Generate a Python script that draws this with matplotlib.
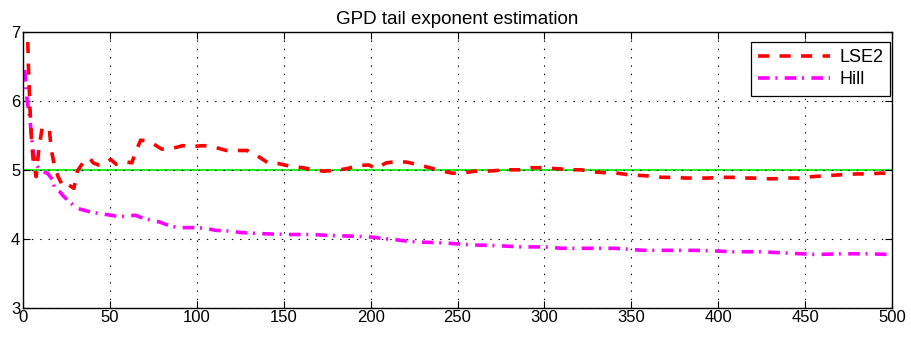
import matplotlib

matplotlib.use("Agg")
import matplotlib.pyplot as plt
import numpy as np

plt.rcParams["font.family"] = ["Liberation Sans", "DejaVu Sans"]
plt.rcParams["lines.scale_dashes"] = False

# LSE2 estimate (red dashed)
lse2_n = [
    2, 3, 4, 5, 6, 7.6, 9.1, 11.1, 13.1, 15.2, 16.2, 18.2, 20.2, 23.2, 26.3,
    29.3, 31.3, 34.4, 38.4, 40.4, 43.4, 46.5, 50.5, 53.6, 58.6, 62.6, 64.7,
    67.7, 70.7, 74.8, 79.8, 85.9, 91.9, 98, 104, 110, 117, 123, 129, 135, 141,
    147, 154, 161, 167, 173, 180, 187, 192, 199, 203, 209, 215, 221, 228, 234,
    240, 247, 255, 260, 267, 273, 280, 286, 293, 299, 305, 316, 321, 328, 333,
    342, 348, 354, 360, 368, 374, 381, 387, 394, 401, 408, 414, 420, 427, 433,
    441, 446, 454, 460, 466, 473, 480, 486, 493, 499, 500,
]
lse2_val = [
    7.8, 6.6, 5.9, 5.4, 5.1, 4.9, 5.3, 5.62, 5.6, 5.58, 5.3, 5.05, 4.9, 4.75,
    4.78, 4.73, 4.98, 5.1, 5.17, 5.1, 5.07, 5.08, 5.15, 5.08, 5.12, 5.1, 5.25,
    5.43, 5.42, 5.38, 5.30, 5.31, 5.35, 5.34, 5.35, 5.33, 5.28, 5.28, 5.28, 5.2,
    5.1, 5.09, 5.05, 5.03, 5.0, 4.98, 4.99, 5.02, 5.06, 5.07, 5.02, 5.1, 5.12,
    5.11, 5.07, 5.03, 4.99, 4.95, 4.96, 4.98, 4.98, 4.99, 5.0, 5.0, 5.03, 5.03,
    5.02, 5.0, 5.0, 4.97, 4.96, 4.95, 4.93, 4.92, 4.91, 4.89, 4.89, 4.88, 4.88,
    4.88, 4.89, 4.89, 4.88, 4.88, 4.87, 4.87, 4.88, 4.88, 4.9, 4.91, 4.92, 4.93,
    4.94, 4.94, 4.95, 4.95, 4.95,
]

# Hill estimate (magenta dash-dot)
hill_n = [
    1, 1.5, 2, 3, 4, 5, 6, 7.1, 10.1, 14.1, 17.2, 18.2, 21.2, 23.2, 27.3, 31.3,
    35.4, 40.4, 45.5, 50.5, 55.6, 60.6, 64.7, 68.7, 74.8, 78.8, 82.9, 88.9, 95,
    100, 105, 111, 119, 125, 131, 140, 152, 158, 167, 173, 184, 196, 202, 207,
    213, 222, 228, 240, 247, 257, 271, 287, 300, 310, 325, 341, 357, 372, 387,
    399, 409, 424, 440, 456, 471, 487, 499, 500,
]
hill_val = [
    6.45, 6.3, 6.1, 5.9, 5.74, 5.45, 5.25, 5.1, 4.98, 4.95, 4.85, 4.72, 4.68,
    4.62, 4.52, 4.44, 4.41, 4.38, 4.36, 4.34, 4.32, 4.33, 4.34, 4.3, 4.26, 4.24,
    4.2, 4.16, 4.16, 4.16, 4.15, 4.12, 4.11, 4.09, 4.08, 4.07, 4.06, 4.06, 4.06,
    4.05, 4.04, 4.03, 4.02, 4.0, 3.99, 3.96, 3.95, 3.94, 3.93, 3.91, 3.90, 3.88,
    3.88, 3.86, 3.86, 3.86, 3.83, 3.83, 3.83, 3.82, 3.81, 3.81, 3.79, 3.77,
    3.78, 3.78, 3.77, 3.77,
]

true_exponent = 5
x_range = [0, 500]

fig = plt.figure(figsize=(9.12, 3.38), dpi=100)
ax = fig.add_axes([0.0252, 0.0902, 0.9529, 0.815])

ax.axhline(true_exponent, color="#22ee22", lw=1.5, zorder=1)
ax.plot(
    lse2_n, lse2_val, color="red", lw=2.6, dashes=(8, 7.5),
    dash_capstyle="butt", label="LSE2", zorder=3,
)
ax.plot(
    hill_n, hill_val, color="magenta", lw=2.6, dashes=(8.4, 4.1, 1.4, 5.3),
    dash_capstyle="butt", label="Hill", zorder=2,
)

ax.set_xlim(x_range)
ax.set_ylim(3, 7)
ax.set_xticks(np.arange(0, 501, 50))
ax.set_yticks([3, 4, 5, 6, 7])
ax.grid(True, color="black", ls=(0, (1, 5)), lw=0.8)
ax.tick_params(
    direction="in", top=True, right=True, labelsize=12, length=5, width=0.8,
    pad=2,
)
for sp in ax.spines.values():
    sp.set_linewidth(1.0)

ax.set_title("GPD tail exponent estimation", fontsize=13.5, pad=6)

leg = ax.legend(
    loc="upper right", fontsize=13, fancybox=False, framealpha=1,
    edgecolor="black", handlelength=4.0, borderpad=0.4, labelspacing=0.3,
    borderaxespad=0.0, handletextpad=0.5, bbox_to_anchor=(0.998, 0.965),
)
leg.get_frame().set_linewidth(0.9)

fig.savefig("out.png", dpi=100, facecolor="white")
